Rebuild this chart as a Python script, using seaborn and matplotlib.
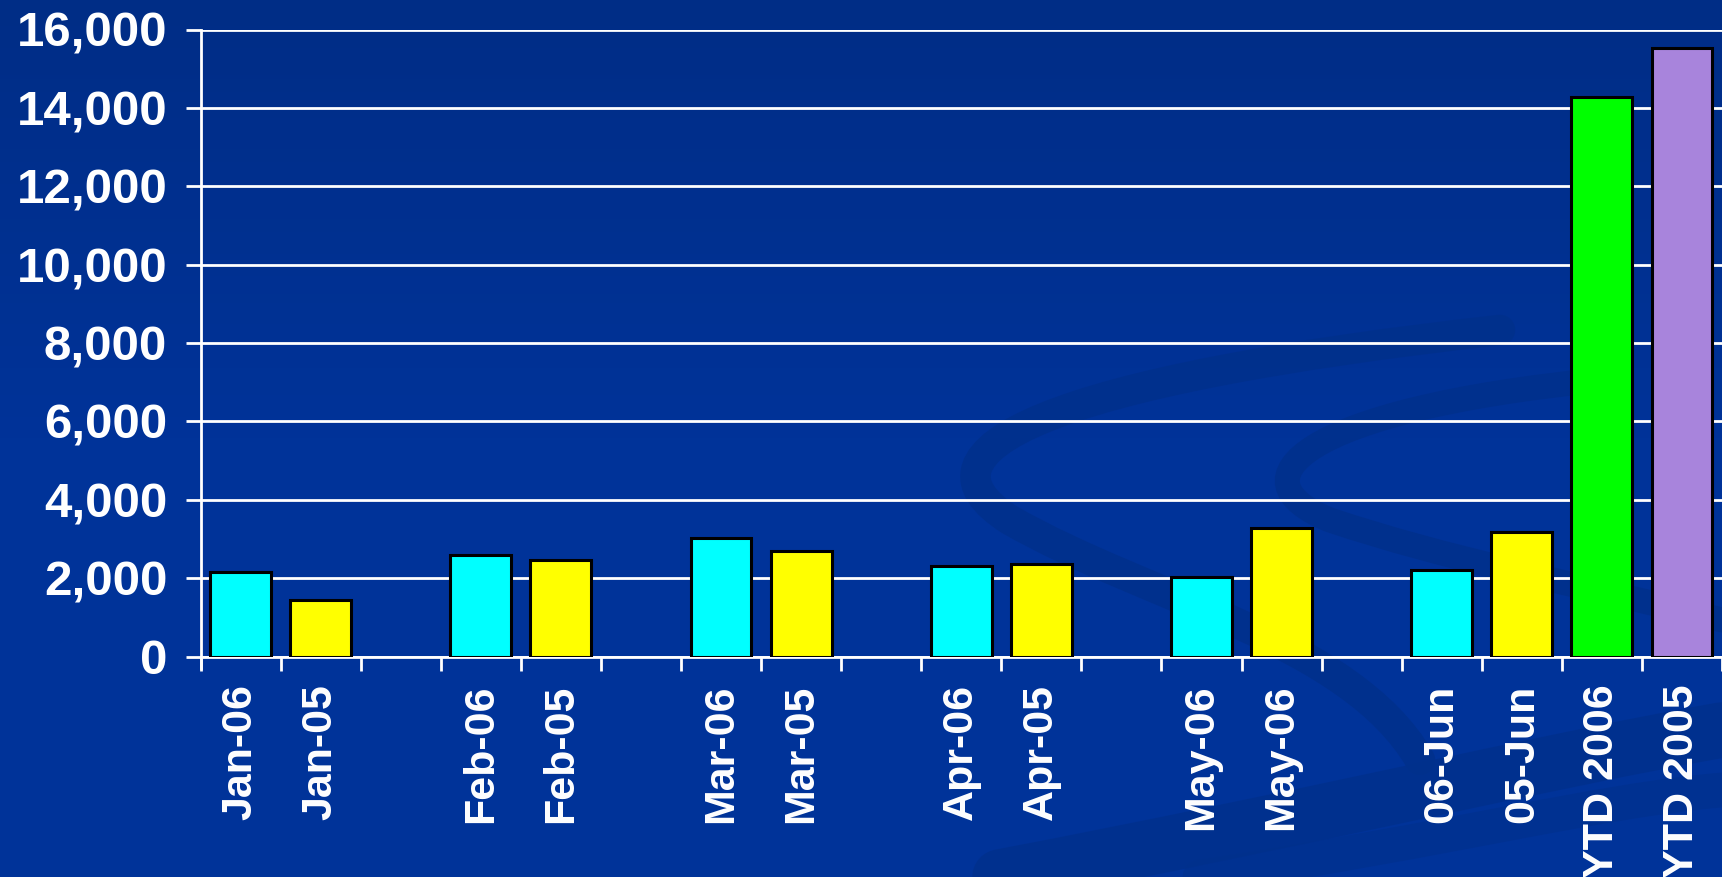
import matplotlib
matplotlib.use("Agg")
import matplotlib.pyplot as plt
import seaborn as sns
import pandas as pd
import numpy as np
from matplotlib.path import Path
from matplotlib.patches import PathPatch
from matplotlib.colors import LinearSegmentedColormap

# ---- data ----
slot_keys = ["jan06", "jan05", "g1", "feb06", "feb05", "g2", "mar06", "mar05", "g3",
             "apr06", "apr05", "g4", "may06a", "may06b", "g5", "jun06", "jun05",
             "ytd06", "ytd05"]
slot_labels = ["Jan-06", "Jan-05", "", "Feb-06", "Feb-05", "", "Mar-06", "Mar-05", "",
               "Apr-06", "Apr-05", "", "May-06", "May-06", "", "06-Jun", "05-Jun",
               "YTD 2006", "YTD 2005"]
bar_keys = ["jan06", "jan05", "feb06", "feb05", "mar06", "mar05", "apr06", "apr05",
            "may06a", "may06b", "jun06", "jun05", "ytd06", "ytd05"]
bar_values = [2150, 1440, 2580, 2460, 3020, 2690, 2310, 2370, 2040, 3280, 2200, 3180,
              14280, 15520]
bar_colors = ["#00FFFF", "#FFFF00", "#00FFFF", "#FFFF00", "#00FFFF", "#FFFF00",
              "#00FFFF", "#FFFF00", "#00FFFF", "#FFFF00", "#00FFFF", "#FFFF00",
              "#00FF00", "#A884DC"]
y_ticks = [0, 2000, 4000, 6000, 8000, 10000, 12000, 14000, 16000]

df = pd.DataFrame({"key": bar_keys, "value": bar_values})
palette = dict(zip(bar_keys, bar_colors))

BG = "#003399"
fig = plt.figure(figsize=(17.22, 8.77), dpi=100, facecolor=BG)

# background with subtle gradient and swooshes
bg = fig.add_axes([0, 0, 1, 1], zorder=0)
bg.set_xlim(0, 1722)
bg.set_ylim(877, 0)
bg.axis("off")
grad = np.linspace(0, 1, 200).reshape(-1, 1)
cmap = LinearSegmentedColormap.from_list("bg", ["#002D86", "#003399", "#003399"])
bg.imshow(grad, extent=[0, 1722, 877, 0], cmap=cmap, aspect="auto")
dark = "#00308C"
def swoosh(verts, lw, alpha=0.9):
    codes = [Path.MOVETO] + [Path.CURVE4] * (len(verts) - 1)
    p = PathPatch(Path(verts, codes), facecolor="none", edgecolor=dark, lw=lw,
                  alpha=alpha, capstyle="round")
    bg.add_patch(p)
swoosh([(1500, 330), (1050, 380), (900, 450), (1010, 520),
        (1150, 600), (1350, 640), (1420, 760)], 22)
swoosh([(1600, 380), (1300, 410), (1230, 480), (1330, 520),
        (1450, 560), (1560, 580), (1722, 620)], 18)
swoosh([(1000, 877), (1300, 820), (1550, 760), (1722, 730)], 40, 0.8)
swoosh([(1200, 877), (1450, 840), (1600, 800), (1722, 790)], 25, 0.6)

ax = fig.add_axes([200.5 / 1722, 220.5 / 877, (1722 - 200.5) / 1722, 627 / 877], zorder=2)
ax.patch.set_alpha(0)

sns.barplot(data=df, x="key", y="value", hue="key", palette=palette, order=slot_keys,
            width=0.76, edgecolor="black", linewidth=2.2, legend=False, ax=ax,
            saturation=1, zorder=3)

ax.set_xlim(-0.5, len(slot_keys) - 0.5)
ax.set_ylim(0, 16000)
ax.set_xlabel("")
ax.set_ylabel("")

# y axis
ax.set_yticks(y_ticks)
ax.set_yticklabels([f"{v:,}" for v in y_ticks])
ax.yaxis.grid(True, color="white", linewidth=2, zorder=1)
ax.set_axisbelow(True)
ax.tick_params(axis="y", colors="white", length=11, width=2, pad=13)
for lbl in ax.get_yticklabels():
    lbl.set_fontfamily("Liberation Sans")
    lbl.set_fontweight("bold")
    lbl.set_fontsize(35.5)
    lbl.set_color("white")

# x axis: tick marks at slot boundaries, labels at centers
ax.set_xticks(np.arange(-0.5, len(slot_keys), 1.0))
ax.set_xticklabels([])
ax.tick_params(axis="x", which="major", colors="white", length=10, width=2)
ax.set_xticks(np.arange(len(slot_keys)), minor=True)
ax.set_xticklabels(slot_labels, minor=True, rotation=90, va="top", ha="center",
                   fontfamily="Liberation Sans", fontweight="bold", fontsize=31,
                   color="white")
ax.tick_params(axis="x", which="minor", length=0, pad=20)

for s in ["top", "right"]:
    ax.spines[s].set_visible(False)
for s in ["left", "bottom"]:
    ax.spines[s].set_color("white")
    ax.spines[s].set_linewidth(2)
ax.spines["left"].set_bounds(-300, 16000)

fig.savefig("out.png", dpi=100, facecolor=BG)
